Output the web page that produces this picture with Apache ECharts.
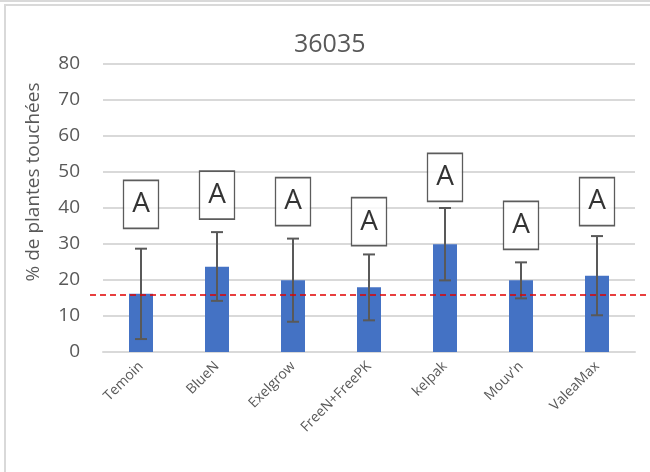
<!DOCTYPE html>
<html>
<head>
<meta charset="utf-8">
<script src="https://cdn.jsdelivr.net/npm/echarts@6/dist/echarts.min.js"></script>
<style>
html,body{margin:0;padding:0;background:#fff;}
#chart{width:650px;height:472px;}
</style>
</head>
<body>
<div id="chart"></div>
<script>
var categories = ["Temoin", "BlueN", "Exelgrow", "FreeN+FreePK", "kelpak", "Mouv'n", "ValeaMax"];
var means = [16.2, 23.7, 19.9, 18.0, 29.9, 19.9, 21.2];
var errLow = [3.6, 14.2, 8.4, 8.8, 19.9, 14.9, 10.2];
var errHigh = [28.7, 33.3, 31.5, 27.1, 40.0, 24.9, 32.2];
var letters = ["A", "A", "A", "A", "A", "A", "A"];
var letterY = [41.0, 43.6, 41.8, 36.2, 48.5, 35.2, 41.8];
var refLine = 16;
var yTicks = [0, 10, 20, 30, 40, 50, 60, 70, 80];
var titleText = "36035";
var yName = "% de plantes touchées";

var chart = echarts.init(document.getElementById('chart'));
var FONT = "'Open Sans', sans-serif";

var errData = categories.map(function (c, i) { return [i, errLow[i], errHigh[i]]; });
var letterData = categories.map(function (c, i) { return [i, letterY[i], letters[i]]; });

var option = {
  backgroundColor: '#fff',
  animation: false,
  title: {
    text: titleText,
    left: 294, top: 32, padding: 0,
    textStyle: { fontFamily: FONT, fontSize: 25, fontWeight: 'normal', color: '#595959' }
  },
  graphic: [
    { type: 'line', shape: { x1: 0, y1: 1, x2: 650, y2: 1 }, style: { stroke: '#d9d9d9', lineWidth: 2 } },
    { type: 'polyline', shape: { points: [[5, 472], [5, 5], [650, 5]] }, style: { stroke: '#d9d9d9', lineWidth: 2, fill: null } },
    { type: 'text', x: 34, y: 182, rotation: Math.PI / 2,
      style: { text: yName, fontFamily: FONT, fontSize: 19, fill: '#595959', textAlign: 'center', textVerticalAlign: 'middle' } }
  ],
  grid: [
    { left: 103, right: 15, top: 64, bottom: 120 },
    { left: 90, right: 3, top: 64, bottom: 120 }
  ],
  xAxis: [
    {
      type: 'category', data: categories, gridIndex: 0,
      axisLine: { lineStyle: { color: '#d9d9d9', width: 2 } },
      axisTick: { show: false },
      axisLabel: { rotate: 45, margin: 12, fontFamily: FONT, fontSize: 14, color: '#595959', interval: 0 }
    },
    { type: 'value', gridIndex: 1, min: 0, max: 1, show: false }
  ],
  yAxis: [
    {
      type: 'value', gridIndex: 0, min: 0, max: 80, interval: 10,
      axisLine: { show: false }, axisTick: { show: false },
      axisLabel: { margin: 23, fontFamily: FONT, fontSize: 19, color: '#595959',
        formatter: function (v) { return yTicks.indexOf(v) >= 0 ? String(v) : ''; } },
      splitLine: { lineStyle: { color: '#d9d9d9', width: 2 } }
    },
    { type: 'value', gridIndex: 1, min: 0, max: 80, show: false }
  ],
  series: [
    {
      type: 'bar', data: means, barWidth: 24, xAxisIndex: 0, yAxisIndex: 0,
      itemStyle: { color: '#4472C4' }, z: 2
    },
    {
      type: 'line', xAxisIndex: 1, yAxisIndex: 1, data: [], z: 3,
      markLine: {
        silent: true, symbol: 'none', label: { show: false },
        lineStyle: { color: '#e00000', type: [6, 4], width: 1.5 },
        data: [{ yAxis: refLine }]
      }
    },
    {
      type: 'custom', xAxisIndex: 0, yAxisIndex: 0, data: errData, z: 4,
      renderItem: function (params, api) {
        var x = api.value(0);
        var top = api.coord([x, api.value(2)]);
        var bot = api.coord([x, api.value(1)]);
        var hw = 6;
        var st = { stroke: '#595959', lineWidth: 2 };
        return {
          type: 'group',
          children: [
            { type: 'line', shape: { x1: top[0], y1: top[1], x2: bot[0], y2: bot[1] }, style: st },
            { type: 'line', shape: { x1: top[0] - hw, y1: top[1], x2: top[0] + hw, y2: top[1] }, style: st },
            { type: 'line', shape: { x1: bot[0] - hw, y1: bot[1], x2: bot[0] + hw, y2: bot[1] }, style: st }
          ]
        };
      }
    },
    {
      type: 'scatter', xAxisIndex: 0, yAxisIndex: 0, data: letterData, z: 5,
      symbol: 'rect', symbolSize: [35, 48],
      itemStyle: { color: '#fff', borderColor: '#333', borderWidth: 1.5 },
      label: { show: true, position: 'inside', formatter: function (p) { return p.value[2]; },
        fontFamily: FONT, fontSize: 28, color: '#000' }
    }
  ]
};
chart.setOption(option);
</script>
</body>
</html>
